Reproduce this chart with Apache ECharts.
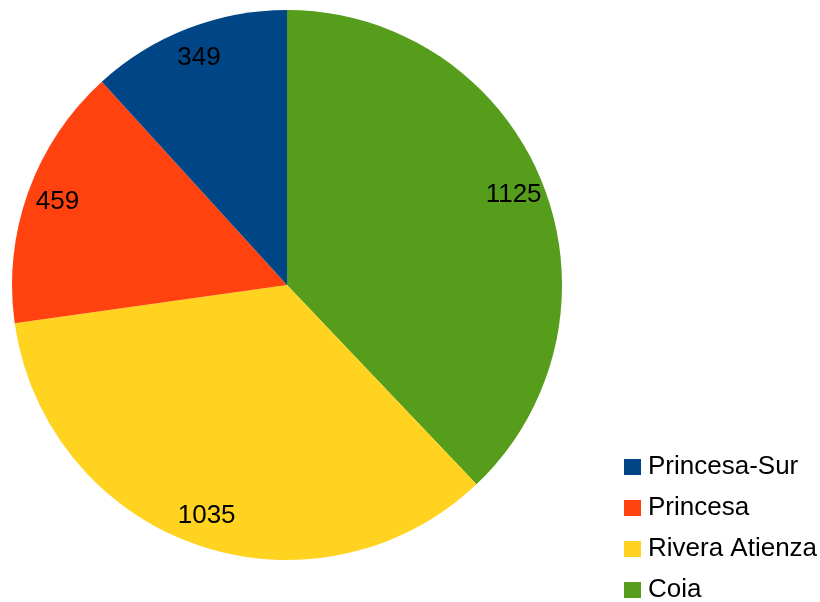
<!DOCTYPE html>
<html>
<head>
<meta charset="utf-8">
<script src="https://cdn.jsdelivr.net/npm/echarts@6/dist/echarts.min.js"></script>
<style>
  html, body { margin: 0; padding: 0; background: #fff; }
  #chart { width: 820px; height: 602px; }
</style>
</head>
<body>
<div id="chart"></div>
<script>
var names = ['Coia', 'Rivera Atienza', 'Princesa', 'Princesa-Sur'];
var values = [1125, 1035, 459, 349];
var colors = ['#579d1c', '#ffd320', '#ff420e', '#004586'];
var legendOrder = ['Princesa-Sur', 'Princesa', 'Rivera Atienza', 'Coia'];

var chartDom = document.getElementById('chart');
var myChart = echarts.init(chartDom);

var pieData = names.map(function (n, i) {
  return { name: n, value: values[i], itemStyle: { color: colors[i] } };
});

// transparent ring used only to place the value labels near the rim
var labelData = names.map(function (n, i) {
  return { name: n, value: values[i] };
});

var option = {
  animation: false,
  legend: {
    orient: 'vertical',
    left: 624,
    top: 454,
    height: 200,
    padding: 0,
    data: legendOrder,
    icon: 'rect',
    itemWidth: 17,
    itemHeight: 16,
    itemGap: 15,
    textStyle: {
      fontFamily: 'Liberation Sans',
      fontSize: 26,
      color: '#000',
      padding: [0, 0, 0, 2]
    }
  },
  series: [
    {
      type: 'pie',
      center: [287, 285],
      radius: [0, 275],
      startAngle: 90,
      clockwise: true,
      data: pieData,
      label: { show: false },
      labelLine: { show: false },
      emphasis: { disabled: true }
    },
    {
      type: 'pie',
      center: [287, 285],
      radius: [207, 275],
      startAngle: 90,
      clockwise: true,
      silent: true,
      legendHoverLink: false,
      data: labelData,
      itemStyle: { color: 'rgba(0,0,0,0)' },
      label: {
        show: true,
        position: 'inside',
        formatter: '{c}',
        fontFamily: 'Liberation Sans',
        fontSize: 26,
        color: '#000'
      },
      labelLine: { show: false },
      emphasis: { disabled: true }
    }
  ]
};

option && myChart.setOption(option);
</script>
</body>
</html>
